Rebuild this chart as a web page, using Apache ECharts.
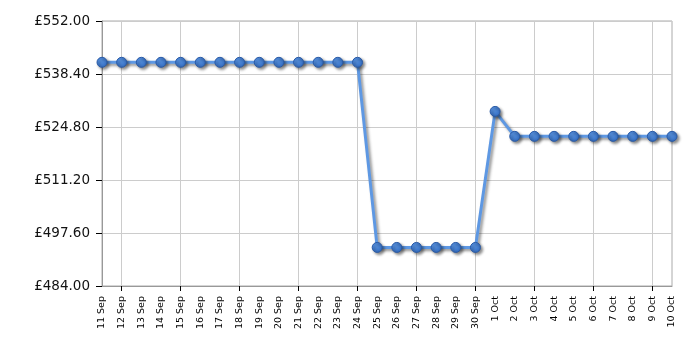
<!DOCTYPE html>
<html><head><meta charset="utf-8">
<script src="https://cdn.jsdelivr.net/npm/echarts@6/dist/echarts.min.js"></script>
<style>html,body{margin:0;padding:0;background:#fff}#c{width:700px;height:350px}</style>
</head><body><div id="c"></div>
<script>
var categories = ['11 Sep','12 Sep','13 Sep','14 Sep','15 Sep','16 Sep','17 Sep','18 Sep','19 Sep','20 Sep','21 Sep','22 Sep','23 Sep','24 Sep','25 Sep','26 Sep','27 Sep','28 Sep','29 Sep','30 Sep','1 Oct','2 Oct','3 Oct','4 Oct','5 Oct','6 Oct','7 Oct','8 Oct','9 Oct','10 Oct'];
var prices = [541.4,541.4,541.4,541.4,541.4,541.4,541.4,541.4,541.4,541.4,541.4,541.4,541.4,541.4,493.9,493.9,493.9,493.9,493.9,493.9,528.8,522.4,522.4,522.4,522.4,522.4,522.4,522.4,522.4,522.4];
var yMin = 484, yMax = 552, yStep = 13.6;

var chart = echarts.init(document.getElementById('c'), null, {renderer:'canvas'});
var every3 = function(i){ return i % 3 === 1; };
chart.setOption({
  animation:false,
  grid:{left:102,right:28,top:21,bottom:64,show:true,borderColor:'#aaaaaa',borderWidth:1},
  xAxis:{
    type:'category', data:categories, boundaryGap:false,
    axisLine:{lineStyle:{color:'#999999'}},
    axisTick:{show:true,interval:every3,length:5,lineStyle:{color:'#000'}},
    splitLine:{show:true,interval:every3,lineStyle:{color:'#cccccc'}},
    axisLabel:{interval:0,rotate:90,fontSize:9.5,fontFamily:'DejaVu Sans',color:'#000',margin:10}
  },
  yAxis:{
    type:'value', min:yMin, max:yMax, interval:yStep,
    axisLine:{show:true,lineStyle:{color:'#999999'}},
    axisTick:{show:true,length:6,lineStyle:{color:'#000'}},
    splitLine:{show:true,lineStyle:{color:'#cccccc'}},
    axisLabel:{fontSize:13.5,fontFamily:'DejaVu Sans',color:'#111',margin:12,
      formatter:function(v){return '£'+v.toFixed(2);}}
  },
  series:[{
    type:'line', data:prices, symbol:'circle', symbolSize:10,
    lineStyle:{color:'#5e98e3',width:3,shadowColor:'rgba(0,0,0,0.45)',shadowBlur:3,shadowOffsetX:2,shadowOffsetY:2},
    itemStyle:{
      color:new echarts.graphic.RadialGradient(0.4,0.35,0.7,[{offset:0,color:'#5a96e6'},{offset:1,color:'#3068bb'}]),
      borderColor:'#2a5aa5',borderWidth:1,
      shadowColor:'rgba(0,0,0,0.45)',shadowBlur:3,shadowOffsetX:2,shadowOffsetY:2
    }
  }]
});
</script></body></html>
